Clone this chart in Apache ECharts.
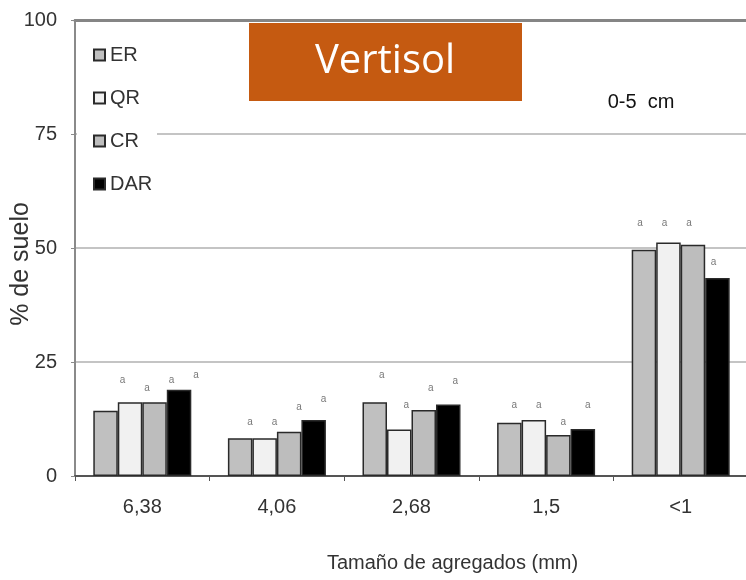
<!DOCTYPE html>
<html>
<head>
<meta charset="utf-8">
<script src="https://cdn.jsdelivr.net/npm/echarts@6/dist/echarts.min.js"></script>
<style>html,body{margin:0;padding:0;background:#fff}#c{width:746px;height:580px}</style>
</head>
<body>
<div id="c"></div>
<script>
const categories = ['6,38', '4,06', '2,68', '1,5', '<1'];
const seriesNames = ['ER', 'QR', 'CR', 'DAR'];
const ER  = [14.3, 8.3, 16.2, 11.7, 49.6];
const QR  = [16.2, 8.3, 10.2, 12.3, 51.2];
const CR  = [16.2, 9.7, 14.5, 9.0, 50.7];
const DAR = [18.9, 12.3, 15.7, 10.3, 43.4];
// heights (in % units) at which the significance letters sit
const letterER  = [20.9, 11.7, 22.1, 15.6, 55.5];
const letterQR  = [19.2, 11.7, 15.6, 15.6, 55.5];
const letterCR  = [20.9, 15.0, 19.3, 11.8, 55.5];
const letterDAR = [22.1, 16.9, 20.8, 15.6, 46.9];
const letterText = 'a';
const yTicks = [0, 25, 50, 75, 100];
const title = 'Vertisol';
const depthLabel = '0-5  cm';
const xName = 'Tamaño de agregados (mm)';
const yName = '% de suelo';

const FONT = "'Liberation Sans', Arial, sans-serif";
const values = [ER, QR, CR, DAR];
const letters = [letterER, letterQR, letterCR, letterDAR];
const fills = ['#c0c0c0', '#f1f1f1', '#bdbdbd', '#000000'];
const barW = 24.5;
const groupShift = [17, 10, 7, 5, -4];

const series = [];
values.forEach((v, k) => {
  series.push({
    name: seriesNames[k], type: 'bar', data: v, barWidth: barW, barGap: 0,
    itemStyle: { color: fills[k], borderColor: '#2a2a2a', borderWidth: 1.5 },
    z: 3
  });
});
letters.forEach((l, k) => {
  series.push({
    name: 'sig' + k, type: 'scatter', symbolSize: 1,
    itemStyle: { color: 'rgba(0,0,0,0)' },
    data: l.map((y, i) => ({
      value: [categories[i], y],
      label: { offset: [(k - 1.5) * barW + groupShift[i], 0] }
    })),
    label: { show: true, position: 'inside', formatter: letterText,
      fontSize: 10, color: '#555', fontFamily: FONT },
    z: 4, silent: true
  });
});

const chart = echarts.init(document.getElementById('c'));
chart.setOption({
  animation: false,
  backgroundColor: '#fff',
  grid: { left: 75, top: 20, bottom: 104, width: 673, outerBoundsMode: 'none', containLabel: false },
  legend: {
    data: seriesNames, orient: 'vertical', left: 93, top: 45,
    itemWidth: 11, itemHeight: 11, itemGap: 23, padding: 0,
    icon: 'rect',
    textStyle: { fontFamily: FONT, fontSize: 20, color: '#333' },
    z: 20
  },
  xAxis: [{
    type: 'category', data: categories, position: 'bottom',
    axisLine: { lineStyle: { color: '#555', width: 2 } },
    axisTick: { show: true, length: 5, lineStyle: { color: '#555' } },
    axisLabel: { fontFamily: FONT, fontSize: 20, color: '#333', margin: 21 },
    name: xName, nameLocation: 'middle', nameGap: 77,
    nameTextStyle: { fontFamily: FONT, fontSize: 20, color: '#333', padding: [0, 0, 0, 82] }
  }, {
    type: 'category', data: categories, position: 'top',
    axisLine: { lineStyle: { color: '#858585', width: 3 } },
    axisTick: { show: false }, axisLabel: { show: false }
  }],
  yAxis: {
    type: 'value', min: yTicks[0], max: yTicks[yTicks.length - 1], interval: 25,
    axisLine: { show: true, lineStyle: { color: '#8a8a8a', width: 2 } },
    axisTick: { show: true, length: 4, lineStyle: { color: '#8a8a8a' } },
    axisLabel: { fontFamily: FONT, fontSize: 20, color: '#333', margin: 18 },
    splitLine: { lineStyle: { color: '#c4c4c4', width: 2 } }
  },
  graphic: [
    { type: 'rect', z: 10, shape: { x: 77, y: 125, width: 80, height: 18 }, style: { fill: '#fff' } },
    { type: 'rect', z: 10, shape: { x: 249, y: 23, width: 273, height: 78 }, style: { fill: '#C55A11' } },
    { type: 'text', z: 11, x: 385, y: 62, style: { text: title, fill: '#fff', font: "40px 'Open Sans'", align: 'center', verticalAlign: 'middle' } },
    { type: 'text', z: 11, x: 641, y: 102, style: { text: depthLabel, fill: '#111', font: "20px " + FONT, align: 'center', verticalAlign: 'middle' } },
    { type: 'text', z: 11, x: 21, y: 264, rotation: Math.PI / 2, style: { text: yName, fill: '#333', font: "25px " + FONT, align: 'center', verticalAlign: 'middle' } }
  ],
  series: series
});
</script>
</body>
</html>
